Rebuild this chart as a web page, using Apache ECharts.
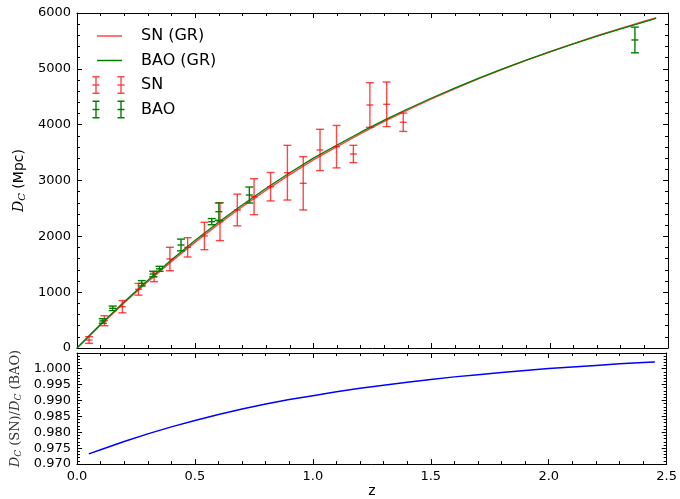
<!DOCTYPE html>
<html>
<head>
<meta charset="utf-8">
<script src="https://cdn.jsdelivr.net/npm/echarts@6/dist/echarts.min.js"></script>
<style>
  html, body { margin: 0; padding: 0; background: #fff; }
  #chart { width: 680px; height: 499px; }
</style>
</head>
<body>
<div id="chart"></div>
<script>
// model curves
var zModel = [0, 0.1, 0.2, 0.3, 0.4, 0.5, 0.6, 0.7, 0.8, 0.9, 1.0, 1.1, 1.2, 1.3, 1.4, 1.5, 1.6, 1.7, 1.8, 1.9, 2.0, 2.1, 2.2, 2.3, 2.4, 2.45];
var dcSN  = [0, 414, 811, 1190, 1551, 1897, 2224, 2534, 2828, 3107, 3371, 3608, 3841, 4059, 4266, 4463, 4648, 4825, 4992, 5152, 5305, 5451, 5591, 5724, 5853, 5917];
var dcBAO = [0, 425, 830, 1215, 1580, 1928, 2256, 2567, 2860, 3138, 3400, 3635, 3865, 4080, 4285, 4478, 4660, 4834, 4998, 5155, 5305, 5448, 5585, 5715, 5842, 5905];

// ratio panel
var zRatio = [0.05, 0.1, 0.2, 0.3, 0.4, 0.5, 0.6, 0.7, 0.8, 0.9, 1.0, 1.1, 1.2, 1.3, 1.4, 1.5, 1.6, 1.7, 1.8, 1.9, 2.0, 2.1, 2.2, 2.3, 2.4, 2.45];
var ratio  = [0.9732, 0.9745, 0.9771, 0.9795, 0.9817, 0.9837, 0.9856, 0.9873, 0.9889, 0.9903, 0.9915, 0.9927, 0.9938, 0.9948, 0.9957, 0.9966, 0.9974, 0.9981, 0.9988, 0.9994, 1.0000, 1.0005, 1.0010, 1.0015, 1.0019, 1.0021];

// SN data points
var snZ   = [0.051, 0.116, 0.192, 0.26, 0.326, 0.393, 0.468, 0.539, 0.605, 0.678, 0.749, 0.819, 0.89, 0.957, 1.028, 1.098, 1.169, 1.239, 1.31, 1.38];
var snD   = [143, 489, 740, 1051, 1277, 1594, 1803, 2006, 2263, 2472, 2710, 2889, 3140, 2950, 3547, 3606, 3475, 4352, 4365, 4043];
var snErr = [60, 90, 110, 105, 90, 210, 173, 245, 340, 284, 322, 255, 490, 478, 370, 380, 155, 400, 400, 164];

// BAO data points
var baoZ   = [0.109, 0.151, 0.274, 0.322, 0.349, 0.44, 0.57, 0.6, 0.729, 2.36];
var baoD   = [484, 711, 1159, 1325, 1418, 1845, 2263, 2442, 2740, 5517];
var baoErr = [40, 40, 48, 50, 45, 105, 55, 155, 143, 230];

function pairs(xs, ys) {
  var out = [];
  for (var i = 0; i < xs.length; i++) out.push([xs[i], ys[i]]);
  return out;
}
function triples(xs, ys, es) {
  var out = [];
  for (var i = 0; i < xs.length; i++) out.push([xs[i], ys[i], es[i]]);
  return out;
}

function errRender(color) {
  return function (params, api) {
    var x = api.value(0), y = api.value(1), e = api.value(2);
    var lo = api.coord([x, y - e]);
    var hi = api.coord([x, y + e]);
    var c = api.coord([x, y]);
    var w = 4;
    var st = { stroke: color, lineWidth: 1.4 };
    return {
      type: 'group',
      children: [
        { type: 'line', shape: { x1: lo[0], y1: lo[1], x2: hi[0], y2: hi[1] }, style: st },
        { type: 'line', shape: { x1: lo[0] - w, y1: lo[1], x2: lo[0] + w, y2: lo[1] }, style: st },
        { type: 'line', shape: { x1: hi[0] - w, y1: hi[1], x2: hi[0] + w, y2: hi[1] }, style: st },
        { type: 'line', shape: { x1: c[0] - 3.5, y1: c[1], x2: c[0] + 3.5, y2: c[1] }, style: st }
      ]
    };
  };
}

// legend icons, all in a 34x18 box (corner anchors keep the box size)
var corners = 'M0 0 L0.01 0 L0 0.01 Z M34 18 L33.99 18 L34 17.99 Z ';
function rect(x, y, w, h) {
  return 'M' + x + ' ' + y + ' L' + (x + w) + ' ' + y + ' L' + (x + w) + ' ' + (y + h) + ' L' + x + ' ' + (y + h) + ' Z ';
}
function ibeam(cx) {
  return rect(cx - 0.7, 0, 1.4, 18) + rect(cx - 3.5, 0, 7, 1.4) + rect(cx - 3.5, 16.6, 7, 1.4) + rect(cx - 3.5, 8.3, 7, 1.4);
}
var lineIcon = 'path://' + corners + rect(5, 8.25, 25, 1.5);
var errIcon = 'path://' + corners + ibeam(4) + ibeam(29);

var redSoft = 'rgba(255,0,0,0.72)';
var green = '#008000';

var axisLineStyle = { show: true, onZero: false, lineStyle: { color: '#000', width: 1 } };
var tickIn = { show: true, inside: true, length: 5, lineStyle: { color: '#000', width: 1 } };
var minorIn = { show: true, splitNumber: 5, length: 3, lineStyle: { color: '#000', width: 1 } };
var labelFont = { fontFamily: 'DejaVu Sans', fontSize: 13, color: '#000' };

function xAx(grid, pos, showLabels, extra) {
  var a = {
    type: 'value', gridIndex: grid, position: pos,
    min: 0, max: 2.5, interval: 0.5,
    axisLine: axisLineStyle, axisTick: tickIn, minorTick: minorIn,
    splitLine: { show: false },
    axisLabel: Object.assign({ show: showLabels, margin: 6, formatter: function (v) { return v.toFixed(1); } }, labelFont)
  };
  return Object.assign(a, extra || {});
}

var myChart = echarts.init(document.getElementById('chart'), null, { renderer: 'canvas' });

var option = {
  animation: false,
  backgroundColor: '#fff',
  grid: [
    { left: 77, top: 13, width: 591, height: 335 },
    { left: 77, top: 353, width: 591, height: 113 }
  ],
  legend: {
    left: 87, top: 22, orient: 'vertical',
    itemWidth: 34, itemHeight: 18, itemGap: 6.5,
    symbolKeepAspect: true,
    textStyle: { fontFamily: 'DejaVu Sans', fontSize: 16, color: '#000', padding: [0, 0, 0, 10] },
    data: [
      { name: 'SN (GR)', icon: lineIcon },
      { name: 'BAO (GR)', icon: lineIcon },
      { name: 'SN', icon: errIcon },
      { name: 'BAO', icon: errIcon }
    ],
    selectedMode: false
  },
  xAxis: [
    xAx(0, 'bottom', false),
    xAx(0, 'top', false),
    xAx(1, 'bottom', true, {
      name: 'z', nameLocation: 'middle', nameGap: 19,
      nameTextStyle: { fontFamily: 'DejaVu Sans', fontSize: 14, color: '#000' }
    }),
    xAx(1, 'top', false)
  ],
  yAxis: [
    {
      type: 'value', gridIndex: 0, position: 'left',
      min: 0, max: 6000, interval: 1000,
      axisLine: axisLineStyle, axisTick: tickIn, minorTick: minorIn,
      splitLine: { show: false },
      axisLabel: Object.assign({ margin: 6, formatter: function (v) { return String(v); } }, labelFont),
      name: '{d|D}{s|C}{t| (Mpc)}', nameLocation: 'middle', nameRotate: 90, nameGap: 42,
      nameTextStyle: {
        rich: {
          d: { fontFamily: 'DejaVu Serif', fontStyle: 'italic', fontSize: 14, color: '#000' },
          s: { fontFamily: 'DejaVu Serif', fontStyle: 'italic', fontSize: 10, color: '#000', padding: [6, 0, 0, 0] },
          t: { fontFamily: 'DejaVu Sans', fontSize: 14, color: '#000' }
        }
      }
    },
    {
      type: 'value', gridIndex: 0, position: 'right',
      min: 0, max: 6000, interval: 1000,
      axisLine: axisLineStyle, axisTick: tickIn, minorTick: minorIn,
      splitLine: { show: false }, axisLabel: { show: false }
    },
    {
      type: 'value', gridIndex: 1, position: 'left',
      min: 0.970, max: 1.0049, interval: 0.005,
      axisLine: axisLineStyle, axisTick: tickIn, minorTick: minorIn,
      splitLine: { show: false },
      axisLabel: Object.assign({
        margin: 6,
        formatter: function (v) { return v > 1.0002 ? '' : v.toFixed(3); }
      }, labelFont),
      name: '{d|D}{s|C}{t| (SN)/}{d|D}{s|C}{t| (BAO)}', nameLocation: 'middle', nameRotate: 90, nameGap: 49,
      nameTextStyle: {
        rich: {
          d: { fontFamily: 'DejaVu Serif', fontStyle: 'italic', fontSize: 13, color: '#333' },
          s: { fontFamily: 'DejaVu Serif', fontStyle: 'italic', fontSize: 9, color: '#333', padding: [6, 0, 0, 0] },
          t: { fontFamily: 'DejaVu Serif', fontSize: 13, color: '#333' }
        }
      }
    },
    {
      type: 'value', gridIndex: 1, position: 'right',
      min: 0.970, max: 1.0049, interval: 0.005,
      axisLine: axisLineStyle, axisTick: tickIn, minorTick: minorIn,
      splitLine: { show: false }, axisLabel: { show: false }
    }
  ],
  series: [
    {
      name: 'SN (GR)', type: 'line', xAxisIndex: 0, yAxisIndex: 0,
      data: pairs(zModel, dcSN), showSymbol: false, symbol: 'none',
      color: redSoft, lineStyle: { color: redSoft, width: 1.5 }, z: 2
    },
    {
      name: 'BAO (GR)', type: 'line', xAxisIndex: 0, yAxisIndex: 0,
      data: pairs(zModel, dcBAO), showSymbol: false, symbol: 'none',
      color: green, lineStyle: { color: green, width: 1.3 }, z: 3
    },
    {
      name: 'SN', type: 'custom', xAxisIndex: 0, yAxisIndex: 0,
      data: triples(snZ, snD, snErr), renderItem: errRender(redSoft),
      itemStyle: { color: redSoft }, encode: { x: 0, y: 1 }, z: 4
    },
    {
      name: 'BAO', type: 'custom', xAxisIndex: 0, yAxisIndex: 0,
      data: triples(baoZ, baoD, baoErr), renderItem: errRender(green),
      itemStyle: { color: green }, encode: { x: 0, y: 1 }, z: 5
    },
    {
      name: 'ratio', type: 'line', xAxisIndex: 2, yAxisIndex: 2,
      data: pairs(zRatio, ratio), showSymbol: false, symbol: 'none',
      lineStyle: { color: '#0000ff', width: 1.5 }, color: '#0000ff'
    }
  ]
};
myChart.setOption(option);
</script>
</body>
</html>
